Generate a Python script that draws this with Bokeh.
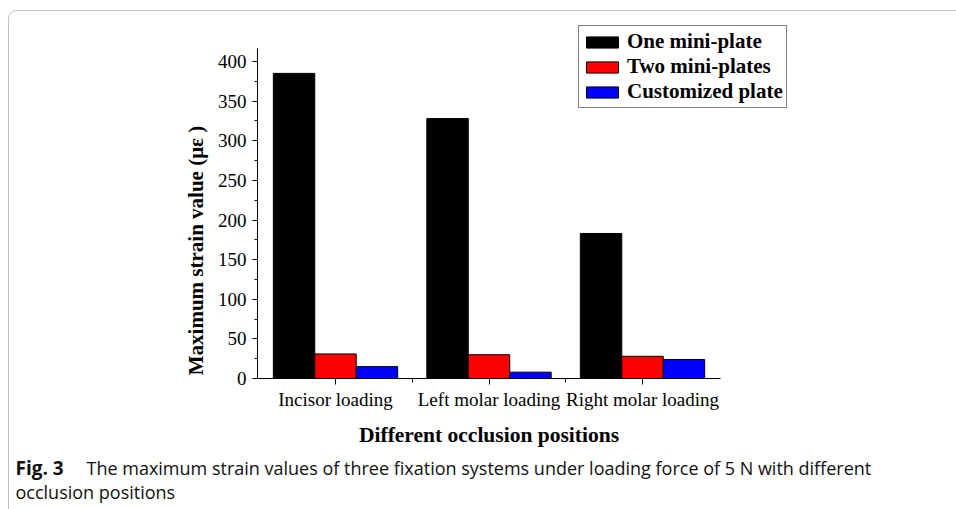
import math
from bokeh.plotting import figure
from bokeh.models import (ColumnDataSource, Label, BoxAnnotation, Legend, LegendItem,
                          FixedTicker, Range1d)
from bokeh.transform import dodge
from bokeh.embed import file_html
from bokeh.resources import INLINE

# ---- data ----
positions = ["Incisor loading", "Left molar loading", "Right molar loading"]
series = ["One mini-plate", "Two mini-plates", "Customized plate"]
one_mini_plate = [385, 328, 183]
two_mini_plates = [31, 30, 28]
customized_plate = [15, 8, 24]
colors = ["#000000", "#ff0000", "#0000ff"]
y_ticks = [0, 50, 100, 150, 200, 250, 300, 350, 400]
y_title = "Maximum strain value (\u03bc\u03b5 )"
x_title = "Different occlusion positions"
caption_bold = "Fig. 3"
caption_line1 = "The maximum strain values of three fixation systems under loading force of 5 N with different"
caption_line2 = "occlusion positions"

# ---- layout (pixels) ----
W, H = 956, 509
AX_L, AX_R, AX_T, AX_B = 257, 720, 48, 378      # axis extents on the canvas
X0_PX, X_UNIT = 335, 153.5                       # px of first group, px per group
Y_UNIT = 317 / 400                               # px per strain unit
SERIF = "Liberation Serif"
CAP = "Open Sans"

xs = list(range(1, len(positions) + 1))
x_lo = 1 + (AX_L - X0_PX) / X_UNIT
x_hi = 1 + (AX_R - X0_PX) / X_UNIT
y_hi = (AX_B - AX_T) / Y_UNIT

src = ColumnDataSource(dict(x=xs, one=one_mini_plate, two=two_mini_plates, cust=customized_plate))

# frame fills the whole canvas; axes are drawn at fixed locations inside it
p = figure(width=W, height=H, output_backend="svg", toolbar_location=None,
           x_range=Range1d(1 - X0_PX / X_UNIT, 1 + (W - X0_PX) / X_UNIT),
           y_range=Range1d(-(H - AX_B) / Y_UNIT, AX_B / Y_UNIT),
           min_border=0)
p.grid.visible = False
p.outline_line_color = None
p.background_fill_color = "white"
p.border_fill_color = "white"

bw = 0.27
renderers = []
for col, off, c in zip(["one", "two", "cust"], [-bw, 0, bw], colors):
    r = p.vbar(x=dodge("x", off, range=p.x_range), top=col, width=bw, bottom=0,
               source=src, fill_color=c, line_color="black", line_width=1)
    renderers.append(r)

# axes
xa = p.xaxis[0]
xa.fixed_location = 0
xa.bounds = (x_lo, x_hi)
xa.ticker = FixedTicker(ticks=xs, minor_ticks=[x + 0.5 for x in xs[:-1]])
xa.major_label_overrides = {x: lab for x, lab in zip(xs, positions)}
xa.major_tick_in = 0
xa.major_tick_out = 6
xa.minor_tick_in = 0
xa.minor_tick_out = 4
xa.major_label_text_font = SERIF
xa.major_label_text_font_size = "19px"
xa.major_label_text_color = "black"
xa.major_label_standoff = 4
xa.axis_label = x_title
xa.axis_label_text_font = SERIF
xa.axis_label_text_font_style = "bold"
xa.axis_label_text_font_size = "21.5px"
xa.axis_label_text_color = "black"
xa.axis_label_standoff = 10
xa.axis_line_color = "black"
xa.major_tick_line_color = "black"
xa.minor_tick_line_color = "black"

ya = p.yaxis[0]
ya.fixed_location = x_lo
ya.bounds = (0, y_hi)
ya.ticker = FixedTicker(ticks=y_ticks, minor_ticks=[t + 25 for t in y_ticks[:-1]])
ya.major_tick_in = 0
ya.major_tick_out = 5
ya.minor_tick_in = 0
ya.minor_tick_out = 3
ya.major_label_text_font = SERIF
ya.major_label_text_font_size = "19px"
ya.major_label_text_color = "black"
ya.major_label_standoff = 6
ya.axis_line_color = "black"
ya.major_tick_line_color = "black"
ya.minor_tick_line_color = "black"

# y title
p.add_layout(Label(x=195, y=H - 250, x_units="screen", y_units="screen",
                   text=y_title, angle=math.pi / 2, text_align="center",
                   text_baseline="middle", text_font=SERIF, text_font_style="bold",
                   text_font_size="21px", text_color="black"))

# legend
legend = Legend(items=[LegendItem(label=s, renderers=[r]) for s, r in zip(series, renderers)],
                location=(578, H - 108), orientation="vertical",
                glyph_width=40, glyph_height=14, label_height=20, spacing=0, padding=3,
                margin=0, label_standoff=5,
                label_text_font=SERIF, label_text_font_style="bold",
                label_text_font_size="21px", label_text_color="black",
                border_line_color="black", border_line_width=1,
                background_fill_color="white", background_fill_alpha=1)
p.add_layout(legend, "center")

# caption
p.add_layout(Label(x=15, y=H - 467, x_units="screen", y_units="screen",
                   text=caption_bold, text_font=CAP,
                   text_font_style="bold", text_font_size="19px",
                   text_baseline="middle", text_color="#111"))
p.add_layout(Label(x=86, y=H - 467, x_units="screen", y_units="screen",
                   text=caption_line1, text_font=CAP, text_font_size="18px",
                   text_baseline="middle", text_color="#111"))
p.add_layout(Label(x=15, y=H - 491, x_units="screen", y_units="screen",
                   text=caption_line2, text_font=CAP, text_font_size="18px",
                   text_baseline="middle", text_color="#111"))

# rounded frame
p.add_layout(BoxAnnotation(left=8, right=W + 20, top=H - 10, bottom=-20,
                           left_units="screen", right_units="screen",
                           top_units="screen", bottom_units="screen",
                           fill_alpha=0, line_color="#333", line_width=1,
                           border_radius=8))

open("out.html", "w").write(file_html(p, INLINE))
